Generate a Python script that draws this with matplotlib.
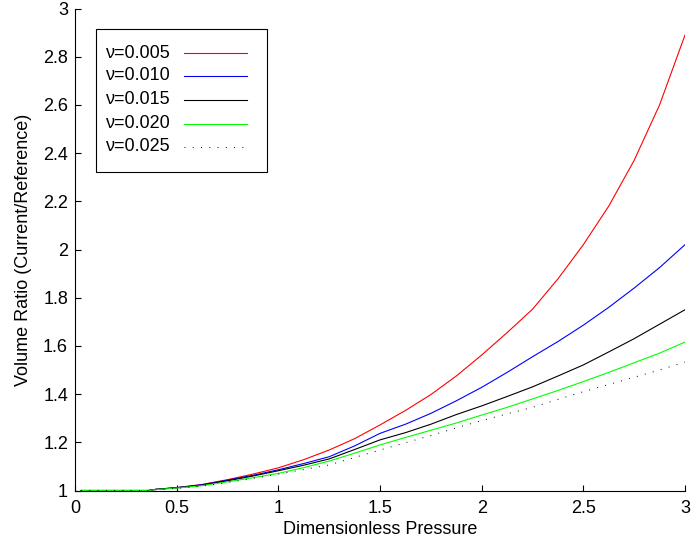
import matplotlib
matplotlib.use("Agg")
import matplotlib.pyplot as plt
from matplotlib.lines import Line2D
from matplotlib.patches import Rectangle

plt.rcParams["font.family"] = ["Liberation Sans", "DejaVu Sans"]
plt.rcParams["font.size"] = 13

# dimensionless pressure samples
pressure = [0.03, 0.36, 0.4, 0.5, 0.625, 0.75, 0.875, 1.0, 1.125, 1.25, 1.375, 1.5,
            1.625, 1.75, 1.875, 2.0, 2.125, 2.25, 2.375, 2.5, 2.625, 2.75, 2.875, 3.0]

# volume ratio for each nu
ratio_005 = [1.0, 1.0, 1.005, 1.012, 1.025, 1.045, 1.068, 1.094, 1.128, 1.168, 1.215, 1.272,
             1.332, 1.398, 1.475, 1.562, 1.655, 1.752, 1.878, 2.02, 2.18, 2.37, 2.6, 2.89]
ratio_010 = [1.0, 1.0, 1.005, 1.012, 1.024, 1.043, 1.063, 1.086, 1.112, 1.14, 1.185, 1.237,
             1.275, 1.32, 1.372, 1.428, 1.49, 1.555, 1.618, 1.686, 1.76, 1.84, 1.925, 2.02]
ratio_015 = [1.0, 1.0, 1.005, 1.011, 1.022, 1.04, 1.06, 1.082, 1.105, 1.131, 1.17, 1.21,
             1.24, 1.275, 1.315, 1.351, 1.39, 1.43, 1.475, 1.521, 1.575, 1.63, 1.69, 1.75]
ratio_020 = [1.0, 1.0, 1.004, 1.01, 1.02, 1.036, 1.053, 1.071, 1.095, 1.122, 1.155, 1.189,
             1.22, 1.25, 1.28, 1.313, 1.345, 1.38, 1.415, 1.452, 1.49, 1.53, 1.57, 1.616]
ratio_025 = [1.0, 1.0, 1.004, 1.009, 1.018, 1.033, 1.05, 1.068, 1.087, 1.106, 1.137, 1.168,
             1.198, 1.228, 1.26, 1.29, 1.318, 1.345, 1.378, 1.41, 1.44, 1.47, 1.5, 1.533]

labels = ["\u03bd=0.005", "\u03bd=0.010", "\u03bd=0.015", "\u03bd=0.020", "\u03bd=0.025"]
series = [ratio_005, ratio_010, ratio_015, ratio_020, ratio_025]
colors = ["#ff0000", "#0000ff", "#000000", "#00ff00", "#000000"]
dotted = (0, (1, 7.5))
styles = ["-", "-", "-", "-", dotted]
widths = [0.8, 0.8, 0.8, 0.8, 0.7]

W, H = 692, 544
fig = plt.figure(figsize=(W / 100, H / 100), dpi=100)
ax = fig.add_axes([75 / W, 1 - 490.5 / H, 610 / W, 482 / H])

for ys, c, ls, lw in zip(series, colors, styles, widths):
    ax.plot(pressure, ys, color=c, linestyle=ls, linewidth=lw)

ax.set_xlim(0, 3)
ax.set_ylim(1, 3)
ax.set_xticks([0, 0.5, 1, 1.5, 2, 2.5, 3])
ax.set_xticklabels(["0", "0.5", "1", "1.5", "2", "2.5", "3"])
ax.set_yticks([1, 1.2, 1.4, 1.6, 1.8, 2, 2.2, 2.4, 2.6, 2.8, 3])
ax.set_yticklabels(["1", "1.2", "1.4", "1.6", "1.8", "2", "2.2", "2.4", "2.6", "2.8", "3"])
ax.spines["top"].set_visible(False)
ax.spines["right"].set_visible(False)
ax.spines["left"].set_linewidth(0.8)
ax.spines["bottom"].set_linewidth(0.8)
ax.tick_params(direction="in", length=4.5, width=0.8)
ax.tick_params(axis="x", pad=7)
ax.tick_params(axis="y", pad=5)
ax.set_xlabel("Dimensionless Pressure", labelpad=3)
ax.set_ylabel("Volume Ratio (Current/Reference)", labelpad=8)


# legend drawn by hand, MATLAB style (text first, line after, extra room at the bottom)
def fx(px):
    return px / W


def fy(py):
    return 1 - py / H


fig.patches.append(Rectangle((fx(96), fy(172.3)), fx(266.7) - fx(96), fy(29.3) - fy(172.3),
                             transform=fig.transFigure, facecolor="white",
                             edgecolor="black", linewidth=0.8, zorder=5))
row_y = [53, 76, 100, 123.5, 146.5]
for lab, c, ls, lw, py in zip(labels, colors, styles, widths, row_y):
    fig.text(fx(106), fy(py), lab, ha="left", va="center", zorder=6)
    fig.lines.append(Line2D([fx(184), fx(247)], [fy(py), fy(py)], transform=fig.transFigure,
                            color=c, linestyle=ls, linewidth=lw, zorder=6))

fig.savefig("out.png", dpi=100)
